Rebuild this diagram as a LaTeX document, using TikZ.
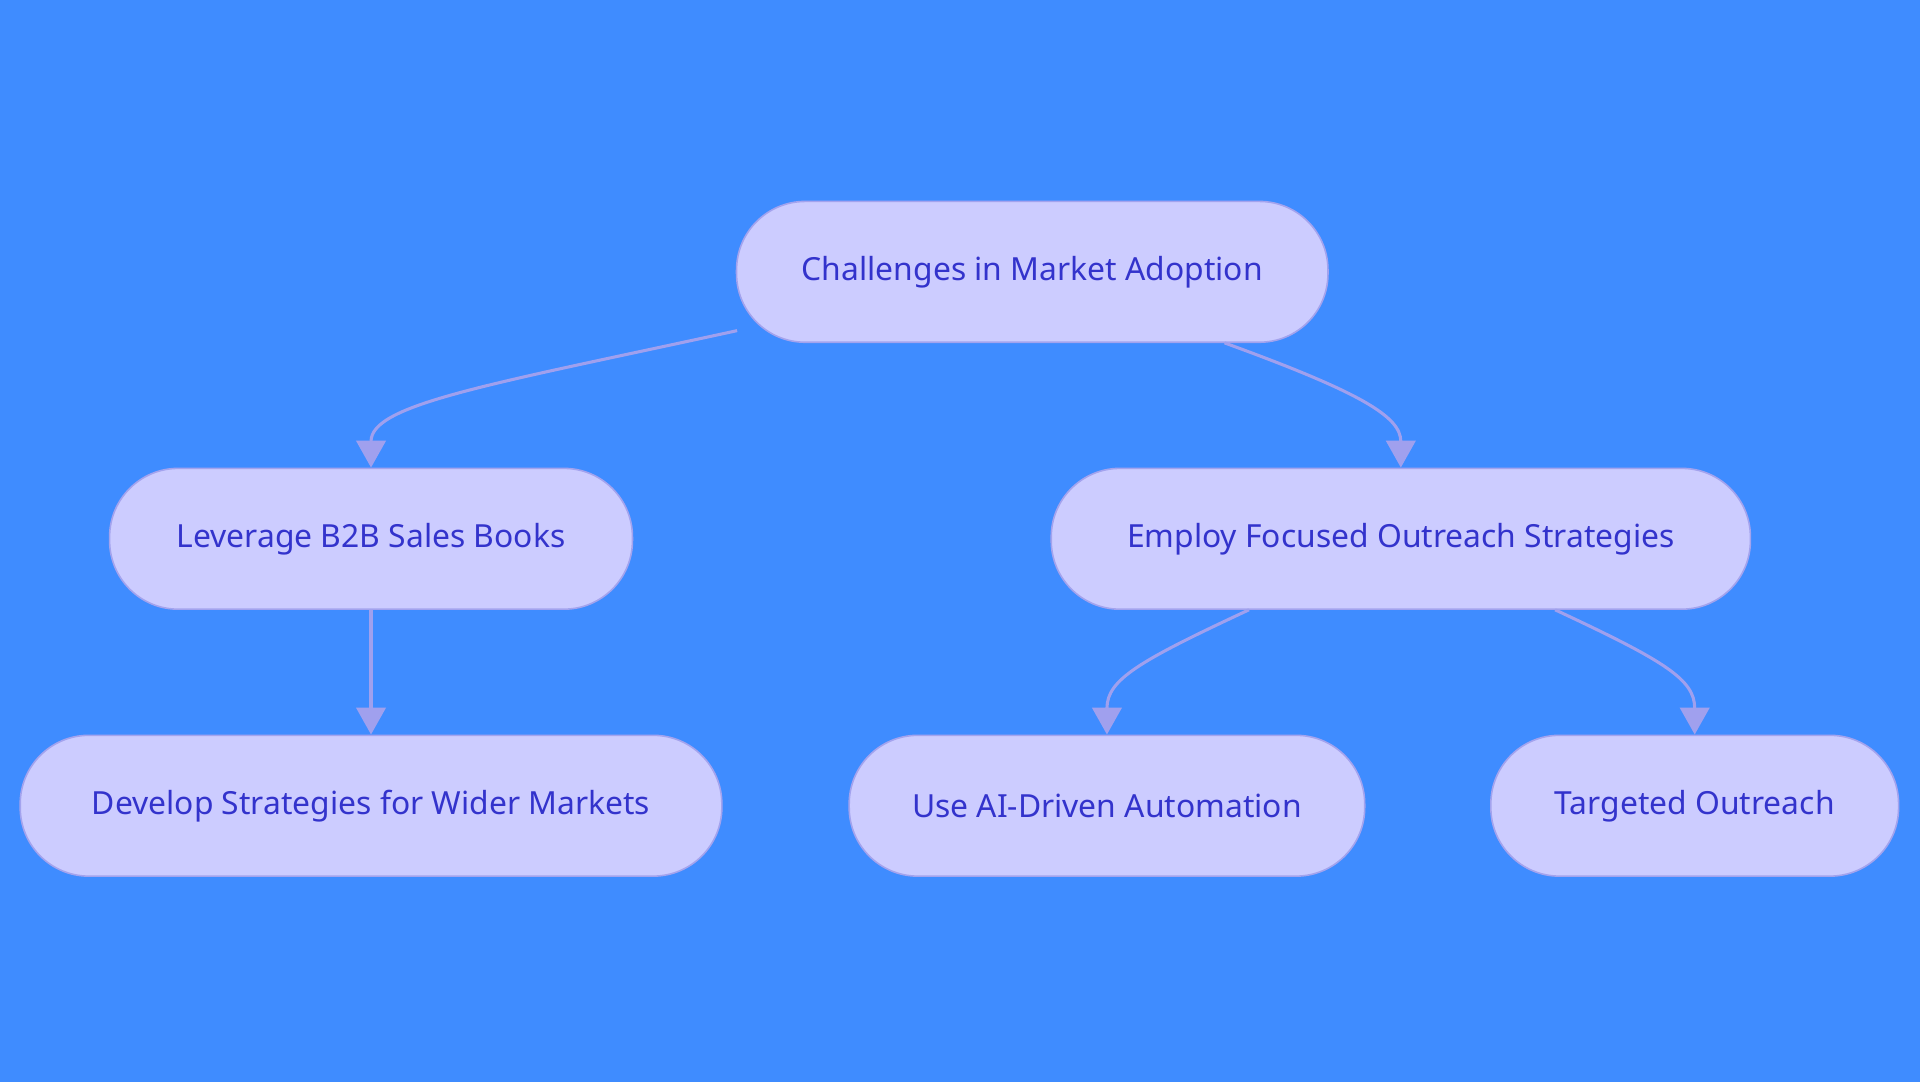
\documentclass[tikz,border=0pt]{standalone}
\usepackage{fontspec}
\setmainfont{Noto Sans}
\usetikzlibrary{arrows.meta}
\definecolor{bg}{HTML}{3F8CFF}
\definecolor{nfill}{HTML}{CCCCFF}
\definecolor{nline}{HTML}{A3A3EE}
\definecolor{ntext}{HTML}{3333CC}
\definecolor{eline}{HTML}{A0A0EE}
\begin{document}
\begin{tikzpicture}[x=1pt,y=-1pt,
  box/.style={draw=nline,fill=nfill,line width=1.3pt,rounded corners=56pt,minimum height=115pt,text=ntext,font=\fontsize{26}{30}\selectfont,inner sep=0pt},
  edge/.style={draw=eline,line width=2.5pt,-{Triangle[length=22pt,width=24pt]}}]
\fill[bg] (0,0) rectangle (1568,884);
\node[box,minimum width=483pt] (root) at (843,222) {Challenges in Market Adoption};
\node[box,minimum width=427pt] (lev) at (303,440) {Leverage B2B Sales Books};
\node[box,minimum width=571pt] (emp) at (1144,440) {Employ Focused Outreach Strategies};
\node[box,minimum width=573pt] (dev) at (303,658) {Develop Strategies for Wider Markets};
\node[box,minimum width=421pt] (ai) at (904,658) {Use AI-Driven Automation};
\node[box,minimum width=333pt] (tgt) at (1384,658) {Targeted Outreach};
\coordinate (r1) at (602,270);
\coordinate (r2) at (1000,280);
\coordinate (e1) at (1020,498);
\coordinate (e2) at (1270,498);
\draw[edge] (r1) .. controls (400,314) and (303,330) .. (lev.north);
\draw[edge] (r2) .. controls (1110,320) and (1144,340) .. (emp.north);
\draw[edge] (lev.south) -- (dev.north);
\draw[edge] (e1) .. controls (930,540) and (904,555) .. (ai.north);
\draw[edge] (e2) .. controls (1360,540) and (1384,555) .. (tgt.north);
\end{tikzpicture}
\end{document}
